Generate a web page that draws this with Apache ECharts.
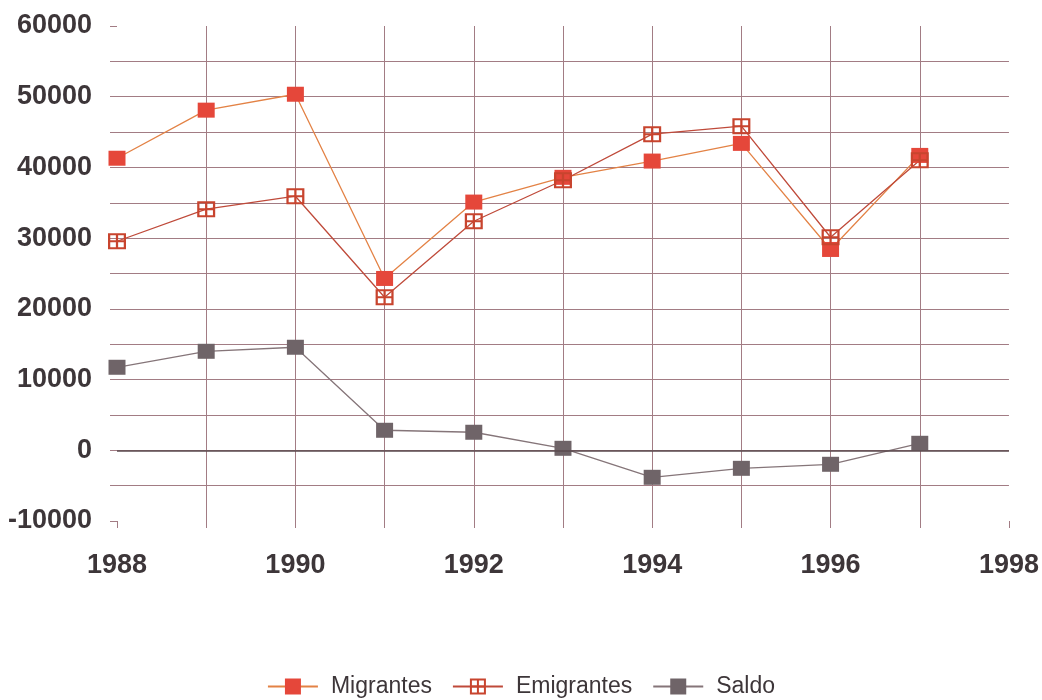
<!DOCTYPE html>
<html>
<head>
<meta charset="utf-8">
<script src="https://cdn.jsdelivr.net/npm/echarts@6/dist/echarts.min.js"></script>
<style>
  html, body { margin: 0; padding: 0; background: #fff; }
  #chart { width: 1042px; height: 700px; }
</style>
</head>
<body>
<div id="chart"></div>
<script>
var years = [1988, 1989, 1990, 1991, 1992, 1993, 1994, 1995, 1996, 1997]
var migrantes = [41300, 48100, 50350, 24300, 35100, 38600, 40900, 43400, 28400, 41700]
var emigrantes = [29560, 34090, 35930, 21640, 32390, 38190, 44700, 45830, 30130, 41020]
var saldo = [11740, 14000, 14570, 2830, 2550, 280, -3820, -2550, -1980, 990]

function pairs(vals) {
  return years.map(function (y, i) { return [y, vals[i]] })
}

// hollow square with a cross inside
var crossBox = 'path://M0,0H16V2H0Z M0,14H16V16H0Z M0,0H2V16H0Z M14,0H16V16H14Z M0,7H16V9H0Z M7,0H9V16H7Z'

var gridColor = '#a27c84'
var textColor = '#3d3639'

var chart = echarts.init(document.getElementById('chart'))
chart.setOption({
  animation: false,
  backgroundColor: '#fff',
  grid: { left: 117, right: 30, top: 26, bottom: 179 },
  legend: {
    top: 670,
    left: 'center',
    itemWidth: 50,
    itemHeight: 20,
    itemGap: 20,
    textStyle: {
      fontFamily: 'Liberation Sans',
      fontSize: 23,
      color: textColor,
      padding: [0, 0, 0, 8]
    },
    data: ['Migrantes', 'Emigrantes', 'Saldo']
  },
  xAxis: {
    type: 'value',
    min: 1988,
    max: 1998,
    interval: 1,
    axisLine: { show: false, onZero: false },
    axisTick: { show: true, length: 7, lineStyle: { color: gridColor } },
    axisLabel: {
      margin: 31,
      fontFamily: 'Liberation Sans',
      fontWeight: 'bold',
      fontSize: 27,
      color: textColor,
      formatter: function (v) { return v % 2 === 0 ? String(v) : '' }
    },
    splitLine: {
      show: true,
      showMinLine: false,
      showMaxLine: false,
      lineStyle: { color: gridColor, width: 1 }
    }
  },
  yAxis: {
    type: 'value',
    min: -10000,
    max: 60000,
    interval: 5000,
    axisLine: { show: false, onZero: false },
    axisTick: { show: true, length: 7, lineStyle: { color: gridColor } },
    axisLabel: {
      margin: 25,
      fontFamily: 'Liberation Sans',
      fontWeight: 'bold',
      fontSize: 27,
      color: textColor,
      formatter: function (v) { return v % 10000 === 0 ? String(v) : '' }
    },
    splitLine: {
      show: true,
      showMinLine: false,
      showMaxLine: false,
      lineStyle: { color: gridColor, width: 1 }
    }
  },
  series: [
    {
      name: 'Migrantes',
      type: 'line',
      data: pairs(migrantes),
      symbol: 'rect',
      symbolSize: [17, 15],
      lineStyle: { color: '#e38245', width: 1.3 },
      itemStyle: { color: '#e5473a' }
    },
    {
      name: 'Emigrantes',
      type: 'line',
      data: pairs(emigrantes),
      symbol: crossBox,
      symbolSize: [18, 16],
      lineStyle: { color: '#bf4a3a', width: 1.3 },
      itemStyle: { color: '#c8442e' }
    },
    {
      name: 'Saldo',
      type: 'line',
      data: pairs(saldo),
      symbol: 'rect',
      symbolSize: [17, 15],
      lineStyle: { color: '#857579', width: 1.3 },
      itemStyle: { color: '#6f6468' },
      markLine: {
        silent: true,
        symbol: 'none',
        label: { show: false },
        lineStyle: { color: '#5a4a4e', width: 1.5, type: 'solid' },
        data: [{ yAxis: 0 }]
      }
    }
  ]
})
</script>
</body>
</html>
